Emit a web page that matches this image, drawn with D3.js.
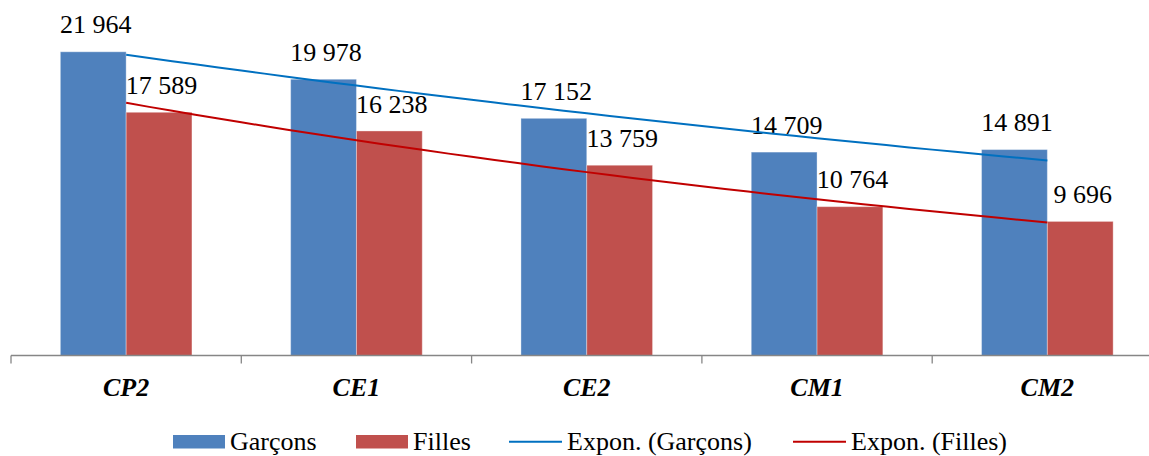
<!DOCTYPE html>
<html><head><meta charset="utf-8">
<script src="https://cdn.jsdelivr.net/npm/d3@7"></script>
<style>html,body{margin:0;padding:0;background:#fff;overflow:hidden}svg{display:block}</style>
</head><body>
<script>
const categories = ["CP2","CE1","CE2","CM1","CM2"];
const garcons = [21964,19978,17152,14709,14891];
const filles = [17589,16238,13759,10764,9696];
const legendLabels = ["Garçons","Filles","Expon. (Garçons)","Expon. (Filles)"];
const colors = {g:"#4F81BD", f:"#C0504D", tg:"#0070C0", tf:"#C00000"};
const FONT="Liberation Serif";

const W=1149,H=456;
const svg=d3.select("body").append("svg").attr("width",W).attr("height",H)
  .attr("font-family",FONT).style("font-family",FONT);

const x=d3.scaleBand().domain(categories).range([11,1162.5]).paddingInner(0).paddingOuter(0);
const y=d3.scaleLinear().domain([0,25000]).range([355.5,9.8]);
const barW=65.8;
const gap=(x.bandwidth()-2*barW)/2;
const fmt=v=>d3.format(",")(v).replace(/,/g," ");

// bars + labels
const series=[{vals:garcons,col:colors.g,off:0},{vals:filles,col:colors.f,off:barW}];
series.forEach(s=>{
  svg.append("g").selectAll("rect").data(categories).join("rect")
    .attr("x",(c)=>x(c)+gap+s.off)
    .attr("y",(c,i)=>y(s.vals[i]))
    .attr("width",barW)
    .attr("height",(c,i)=>y(0)-y(s.vals[i]))
    .attr("fill",s.col)
    .attr("stroke","rgba(255,255,255,0.35)").attr("stroke-width",1);
  svg.append("g").selectAll("text").data(categories).join("text")
    .attr("x",(c)=>x(c)+gap+s.off+barW/2+2.5)
    .attr("y",(c,i)=>y(s.vals[i])-18.3)
    .attr("text-anchor","middle")
    .attr("font-family",FONT).style("font-family",FONT).attr("font-size",26)
    .attr("fill","#000")
    .text((c,i)=>fmt(s.vals[i]));
});

// exponential trend lines (least squares on ln values)
function expFit(vals){
  const xs=vals.map((v,i)=>i+1), ls=vals.map(v=>Math.log(v));
  const mx=d3.mean(xs), ml=d3.mean(ls);
  const b=d3.sum(xs.map((xx,i)=>(xx-mx)*(ls[i]-ml)))/d3.sum(xs.map(xx=>(xx-mx)**2));
  const a=ml-b*mx;
  return t=>Math.exp(a+b*t);
}
const xc=t=>x(categories[0])+x.bandwidth()/2+(t-1)*x.step();
[[garcons,colors.tg],[filles,colors.tf]].forEach(([vals,col])=>{
  const f=expFit(vals);
  const pts=d3.range(0,41).map(k=>1+k*0.1);
  svg.append("path").datum(pts)
    .attr("d",d3.line().x(t=>xc(t)).y(t=>y(f(t))))
    .attr("fill","none").attr("stroke",col).attr("stroke-width",2);
});

// x axis
const axis=svg.append("g").attr("transform",`translate(0,${y(0)})`)
  .call(d3.axisBottom(x).tickSize(0).tickFormat(""));
axis.attr("font-family",null).attr("font-size",null);
axis.selectAll(".tick").remove();
axis.select(".domain").attr("stroke","#868686").attr("stroke-width",1.3).attr("d",`M11,0H1162.5`);
const bounds=categories.map(c=>x(c)).concat([x.range()[1]]);
axis.selectAll(".bt").data(bounds).join("line").attr("class","bt")
  .attr("x1",d=>d).attr("x2",d=>d).attr("y1",0).attr("y2",8)
  .attr("stroke","#868686").attr("stroke-width",1.3);
svg.append("g").selectAll("text").data(categories).join("text")
  .attr("x",c=>x(c)+x.bandwidth()/2)
  .attr("y",395.7)
  .attr("text-anchor","middle")
  .attr("font-family",FONT).style("font-family",FONT).attr("font-size",26)
  .attr("font-weight","bold").attr("font-style","italic")
  .text(c=>c);

// legend
const lg=svg.append("g");
const items=[
  {type:"rect",col:colors.g,x0:173,x1:225,tx:230,label:legendLabels[0]},
  {type:"rect",col:colors.f,x0:356,x1:408,tx:413,label:legendLabels[1]},
  {type:"line",col:colors.tg,x0:509,x1:562,tx:567,label:legendLabels[2]},
  {type:"line",col:colors.tf,x0:793,x1:846,tx:851,label:legendLabels[3]}
];
items.forEach(it=>{
  if(it.type==="rect") lg.append("rect").attr("x",it.x0).attr("y",435).attr("width",it.x1-it.x0).attr("height",13.5).attr("fill",it.col);
  else lg.append("line").attr("x1",it.x0).attr("x2",it.x1).attr("y1",441.7).attr("y2",441.7).attr("stroke",it.col).attr("stroke-width",2);
  lg.append("text").attr("x",it.tx).attr("y",449.5)
    .attr("font-family",FONT).style("font-family",FONT).attr("font-size",26).text(it.label);
});
</script>
</body></html>
